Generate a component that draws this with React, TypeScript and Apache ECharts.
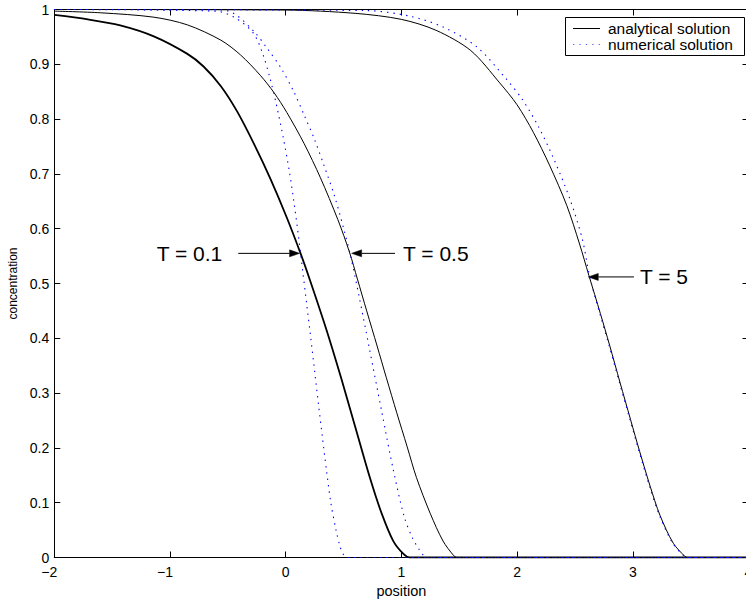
import React, { useEffect, useRef } from "react";
import * as echarts from "echarts";

const FONT = "'Liberation Sans', Arial, Helvetica, sans-serif";

// Axis ranges / ticks
const xMin = -2;
const xMax = 4;
const xStep = 1;
const yMin = 0;
const yMax = 1;
const yStep = 0.1;

const legendNames = ["analytical solution", "numerical solution"];

// T = 0.5 analytical
const t05AnalyticalX = [-2, -1.6, -1.14, -0.85, -0.56, -0.39, -0.22, -0.1, 0.01, 0.16, 0.3, 0.45, 0.55, 0.62, 0.7, 0.79, 0.87, 0.96, 1.05, 1.13, 1.25, 1.36, 1.45, 1.48, 4];
const t05AnalyticalY = [0.997, 0.994, 0.986, 0.972, 0.944, 0.917, 0.88, 0.848, 0.812, 0.755, 0.693, 0.617, 0.558, 0.508, 0.45, 0.386, 0.328, 0.264, 0.202, 0.146, 0.08, 0.03, 0.004, 0, 0];

// T = 5 analytical
const t5AnalyticalX = [-2, 0, 0.6, 1.0, 1.3, 1.6, 1.85, 2.0, 2.14, 2.28, 2.43, 2.54, 2.62, 2.72, 2.8, 2.89, 2.98, 3.06, 3.15, 3.235, 3.35, 3.45, 3.47, 4];
const t5AnalyticalY = [1.0, 0.999, 0.993, 0.982, 0.962, 0.925, 0.866, 0.826, 0.776, 0.716, 0.642, 0.572, 0.515, 0.445, 0.387, 0.319, 0.252, 0.193, 0.13, 0.077, 0.026, 0.002, 0, 0];

// T = 0.1 analytical
const t01AnalyticalX = [-2, -1.71, -1.43, -1.14, -0.85, -0.71, -0.56, -0.42, -0.27, -0.13, 0.01, 0.13, 0.21, 0.35, 0.48, 0.6, 0.73, 0.83, 0.93, 1.02, 1.07, 4];
const t01AnalyticalY = [0.99, 0.982, 0.971, 0.951, 0.919, 0.896, 0.86, 0.814, 0.753, 0.69, 0.62, 0.554, 0.506, 0.417, 0.327, 0.239, 0.144, 0.08, 0.03, 0.006, 0, 0];

// T = 0.1 numerical
const t01NumericalX = [-2, -0.6, -0.43, -0.28, -0.195, -0.135, -0.08, -0.02, 0.032, 0.075, 0.113, 0.148, 0.183, 0.217, 0.25, 0.283, 0.317, 0.352, 0.39, 0.435, 0.47, 0.5, 0.53, 4];
const t01NumericalY = [1.0, 0.997, 0.984, 0.957, 0.917, 0.874, 0.826, 0.765, 0.704, 0.643, 0.582, 0.521, 0.46, 0.4, 0.34, 0.28, 0.22, 0.16, 0.1, 0.05, 0.02, 0.005, 0, 0];

// T = 0.5 numerical
const t05NumericalX = [-2, -0.6, -0.45, -0.27, -0.16, -0.04, 0.07, 0.16, 0.245, 0.33, 0.42, 0.5, 0.563, 0.632, 0.72, 0.833, 0.93, 1.025, 1.095, 1.155, 1.19, 1.21, 4];
const t05NumericalY = [1.0, 1.0, 0.993, 0.959, 0.929, 0.893, 0.85, 0.807, 0.765, 0.716, 0.661, 0.601, 0.548, 0.479, 0.385, 0.263, 0.16, 0.074, 0.036, 0.014, 0.004, 0, 0];

// T = 5 numerical
const t5NumericalX = [-2, 0.7, 1.07, 1.36, 1.65, 1.895, 2.045, 2.185, 2.32, 2.46, 2.565, 2.625, 2.715, 2.795, 2.885, 2.975, 3.055, 3.145, 3.23, 3.345, 3.445, 3.465, 4];
const t5NumericalY = [1.0, 0.998, 0.988, 0.968, 0.932, 0.876, 0.836, 0.786, 0.726, 0.652, 0.58, 0.515, 0.445, 0.387, 0.319, 0.252, 0.193, 0.13, 0.077, 0.026, 0.002, 0, 0];

// Annotations (data coordinates)
const annotationLabels = ["T = 0.1", "T = 0.5", "T = 5"];
const annotationTipX = [0.12, 0.57, 2.615];
const annotationTailX = [-0.41, 0.945, 3.01];
const annotationY = [0.555, 0.555, 0.512];

const zip = (xs: number[], ys: number[]) => xs.map((x, i) => [x, ys[i]]);

export default function App() {
  const ref = useRef<HTMLDivElement>(null);

  useEffect(() => {
    if (!ref.current) return;
    const chart = echarts.init(ref.current, null, { renderer: "svg" });

    const solidColor = "#000000";
    const dotColor = "#0000ff";
    const dotDash = [1.4, 5];

    const solid = (width: number) => ({ color: solidColor, width, type: "solid" as const });
    const dotted = { color: dotColor, width: 1.1, type: dotDash as any };

    const baseSeries = {
      type: "line" as const,
      symbol: "none",
      showSymbol: false,
      smooth: 0.3,
      silent: true,
    };

    const axisLine = { onZero: false, lineStyle: { color: "#000", width: 1 } };
    const axisTick = { inside: true, length: 6, lineStyle: { color: "#000", width: 1 } };

    const option: any = {
      animation: false,
      backgroundColor: "#ffffff",
      textStyle: { fontFamily: FONT },
      grid: {
        left: 54.3,
        top: 9.5,
        width: 694.2,
        height: 548,
        containLabel: false,
        outerBoundsMode: "none",
      },
      xAxis: [
        {
          type: "value",
          min: xMin,
          max: xMax,
          interval: xStep,
          position: "bottom",
          axisLine,
          axisTick,
          splitLine: { show: false },
          axisLabel: {
            color: "#000",
            fontSize: 14,
            fontFamily: FONT,
            margin: 7,
            hideOverlap: false,
            formatter: (v: number) => (v < 0 ? `{neg|\u2212${-v}}` : `${v}`),
            rich: {
              neg: { fontSize: 14, fontFamily: FONT, color: "#000", padding: [0, 10, 0, 0] },
            },
          },
          name: "position",
          nameLocation: "middle",
          nameGap: 17,
          nameTextStyle: { fontSize: 14.5, fontFamily: FONT, color: "#000", verticalAlign: "top" },
        },
        {
          type: "value",
          min: xMin,
          max: xMax,
          interval: xStep,
          position: "top",
          axisLine,
          axisTick,
          splitLine: { show: false },
          axisLabel: { show: false },
        },
      ],
      yAxis: [
        {
          type: "value",
          min: yMin,
          max: yMax,
          interval: yStep,
          position: "left",
          axisLine,
          axisTick,
          splitLine: { show: false },
          axisLabel: { color: "#000", fontSize: 14, fontFamily: FONT, margin: 5, hideOverlap: false },
          name: "concentration",
          nameLocation: "middle",
          nameGap: 30,
          nameTextStyle: { fontSize: 12, fontFamily: FONT, color: "#000" },
        },
        {
          type: "value",
          min: yMin,
          max: yMax,
          interval: yStep,
          position: "right",
          axisLine,
          axisTick,
          splitLine: { show: false },
          axisLabel: { show: false },
        },
      ],
      series: [
        { ...baseSeries, name: legendNames[0], color: solidColor, data: zip(t05AnalyticalX, t05AnalyticalY), lineStyle: solid(1) },
        { ...baseSeries, name: legendNames[0], color: solidColor, data: zip(t5AnalyticalX, t5AnalyticalY), lineStyle: solid(1) },
        { ...baseSeries, name: legendNames[0], color: solidColor, data: zip(t01AnalyticalX, t01AnalyticalY), lineStyle: solid(1.8) },
        { ...baseSeries, name: legendNames[1], color: dotColor, data: zip(t01NumericalX, t01NumericalY), lineStyle: dotted },
        { ...baseSeries, name: legendNames[1], color: dotColor, data: zip(t05NumericalX, t05NumericalY), lineStyle: dotted },
        { ...baseSeries, name: legendNames[1], color: dotColor, data: zip(t5NumericalX, t5NumericalY), lineStyle: dotted },
      ],
    };

    chart.setOption(option);

    const graphics: any[] = [];

    // Legend box (drawn as graphics so the sample lines match the series styles)
    const legendBox = { x: 565, y: 17, w: 179, h: 38 };
    const legendRows = [28, 44];
    graphics.push({
      type: "rect",
      silent: true,
      z: 100,
      shape: { x: legendBox.x + 0.5, y: legendBox.y + 0.5, width: legendBox.w, height: legendBox.h },
      style: { fill: "#fff", stroke: "#000", lineWidth: 1 },
    });
    legendNames.forEach((name, i) => {
      graphics.push({
        type: "line",
        silent: true,
        z: 101,
        shape: { x1: 573, y1: legendRows[i] + 0.5, x2: 600, y2: legendRows[i] + 0.5 },
        style:
          i === 0
            ? { stroke: solidColor, lineWidth: 1 }
            : { stroke: dotColor, lineWidth: 1.1, lineDash: dotDash, opacity: 0.6 },
      });
      graphics.push({
        type: "text",
        silent: true,
        z: 101,
        x: 608,
        y: legendRows[i],
        style: {
          text: name,
          fontSize: 15.5,
          fontFamily: FONT,
          fill: "#000",
          align: "left",
          verticalAlign: "middle",
        },
      });
    });

    // Arrow annotations
    const textGap = [16, 8, 6];
    annotationLabels.forEach((label, i) => {
      const tip = chart.convertToPixel({ seriesIndex: 0 }, [annotationTipX[i], annotationY[i]]) as number[];
      const tail = chart.convertToPixel({ seriesIndex: 0 }, [annotationTailX[i], annotationY[i]]) as number[];
      const dir = Math.sign(tip[0] - tail[0]);
      const headLen = 10;
      const headHalf = 3.5;
      const baseX = tip[0] - dir * headLen;
      graphics.push({
        type: "line",
        silent: true,
        shape: { x1: tail[0], y1: tail[1], x2: baseX, y2: tip[1] },
        style: { stroke: "#000", lineWidth: 1 },
      });
      graphics.push({
        type: "polygon",
        silent: true,
        shape: {
          points: [
            [tip[0], tip[1]],
            [baseX, tip[1] - headHalf],
            [baseX, tip[1] + headHalf],
          ],
        },
        style: { fill: "#000", stroke: "#000", lineWidth: 0.5 },
      });
      graphics.push({
        type: "text",
        silent: true,
        x: dir > 0 ? tail[0] - textGap[i] : tail[0] + textGap[i],
        y: tail[1],
        style: {
          text: label,
          fontSize: 21,
          fontFamily: FONT,
          fill: "#000",
          align: dir > 0 ? "right" : "left",
          verticalAlign: "middle",
        },
      });
    });
    chart.setOption({ graphic: graphics });

    return () => {
      chart.dispose();
    };
  }, []);

  return (
    <div
      ref={ref}
      style={{ position: "absolute", left: 0, top: 0, width: 746, height: 601, overflow: "hidden" }}
    />
  );
}
